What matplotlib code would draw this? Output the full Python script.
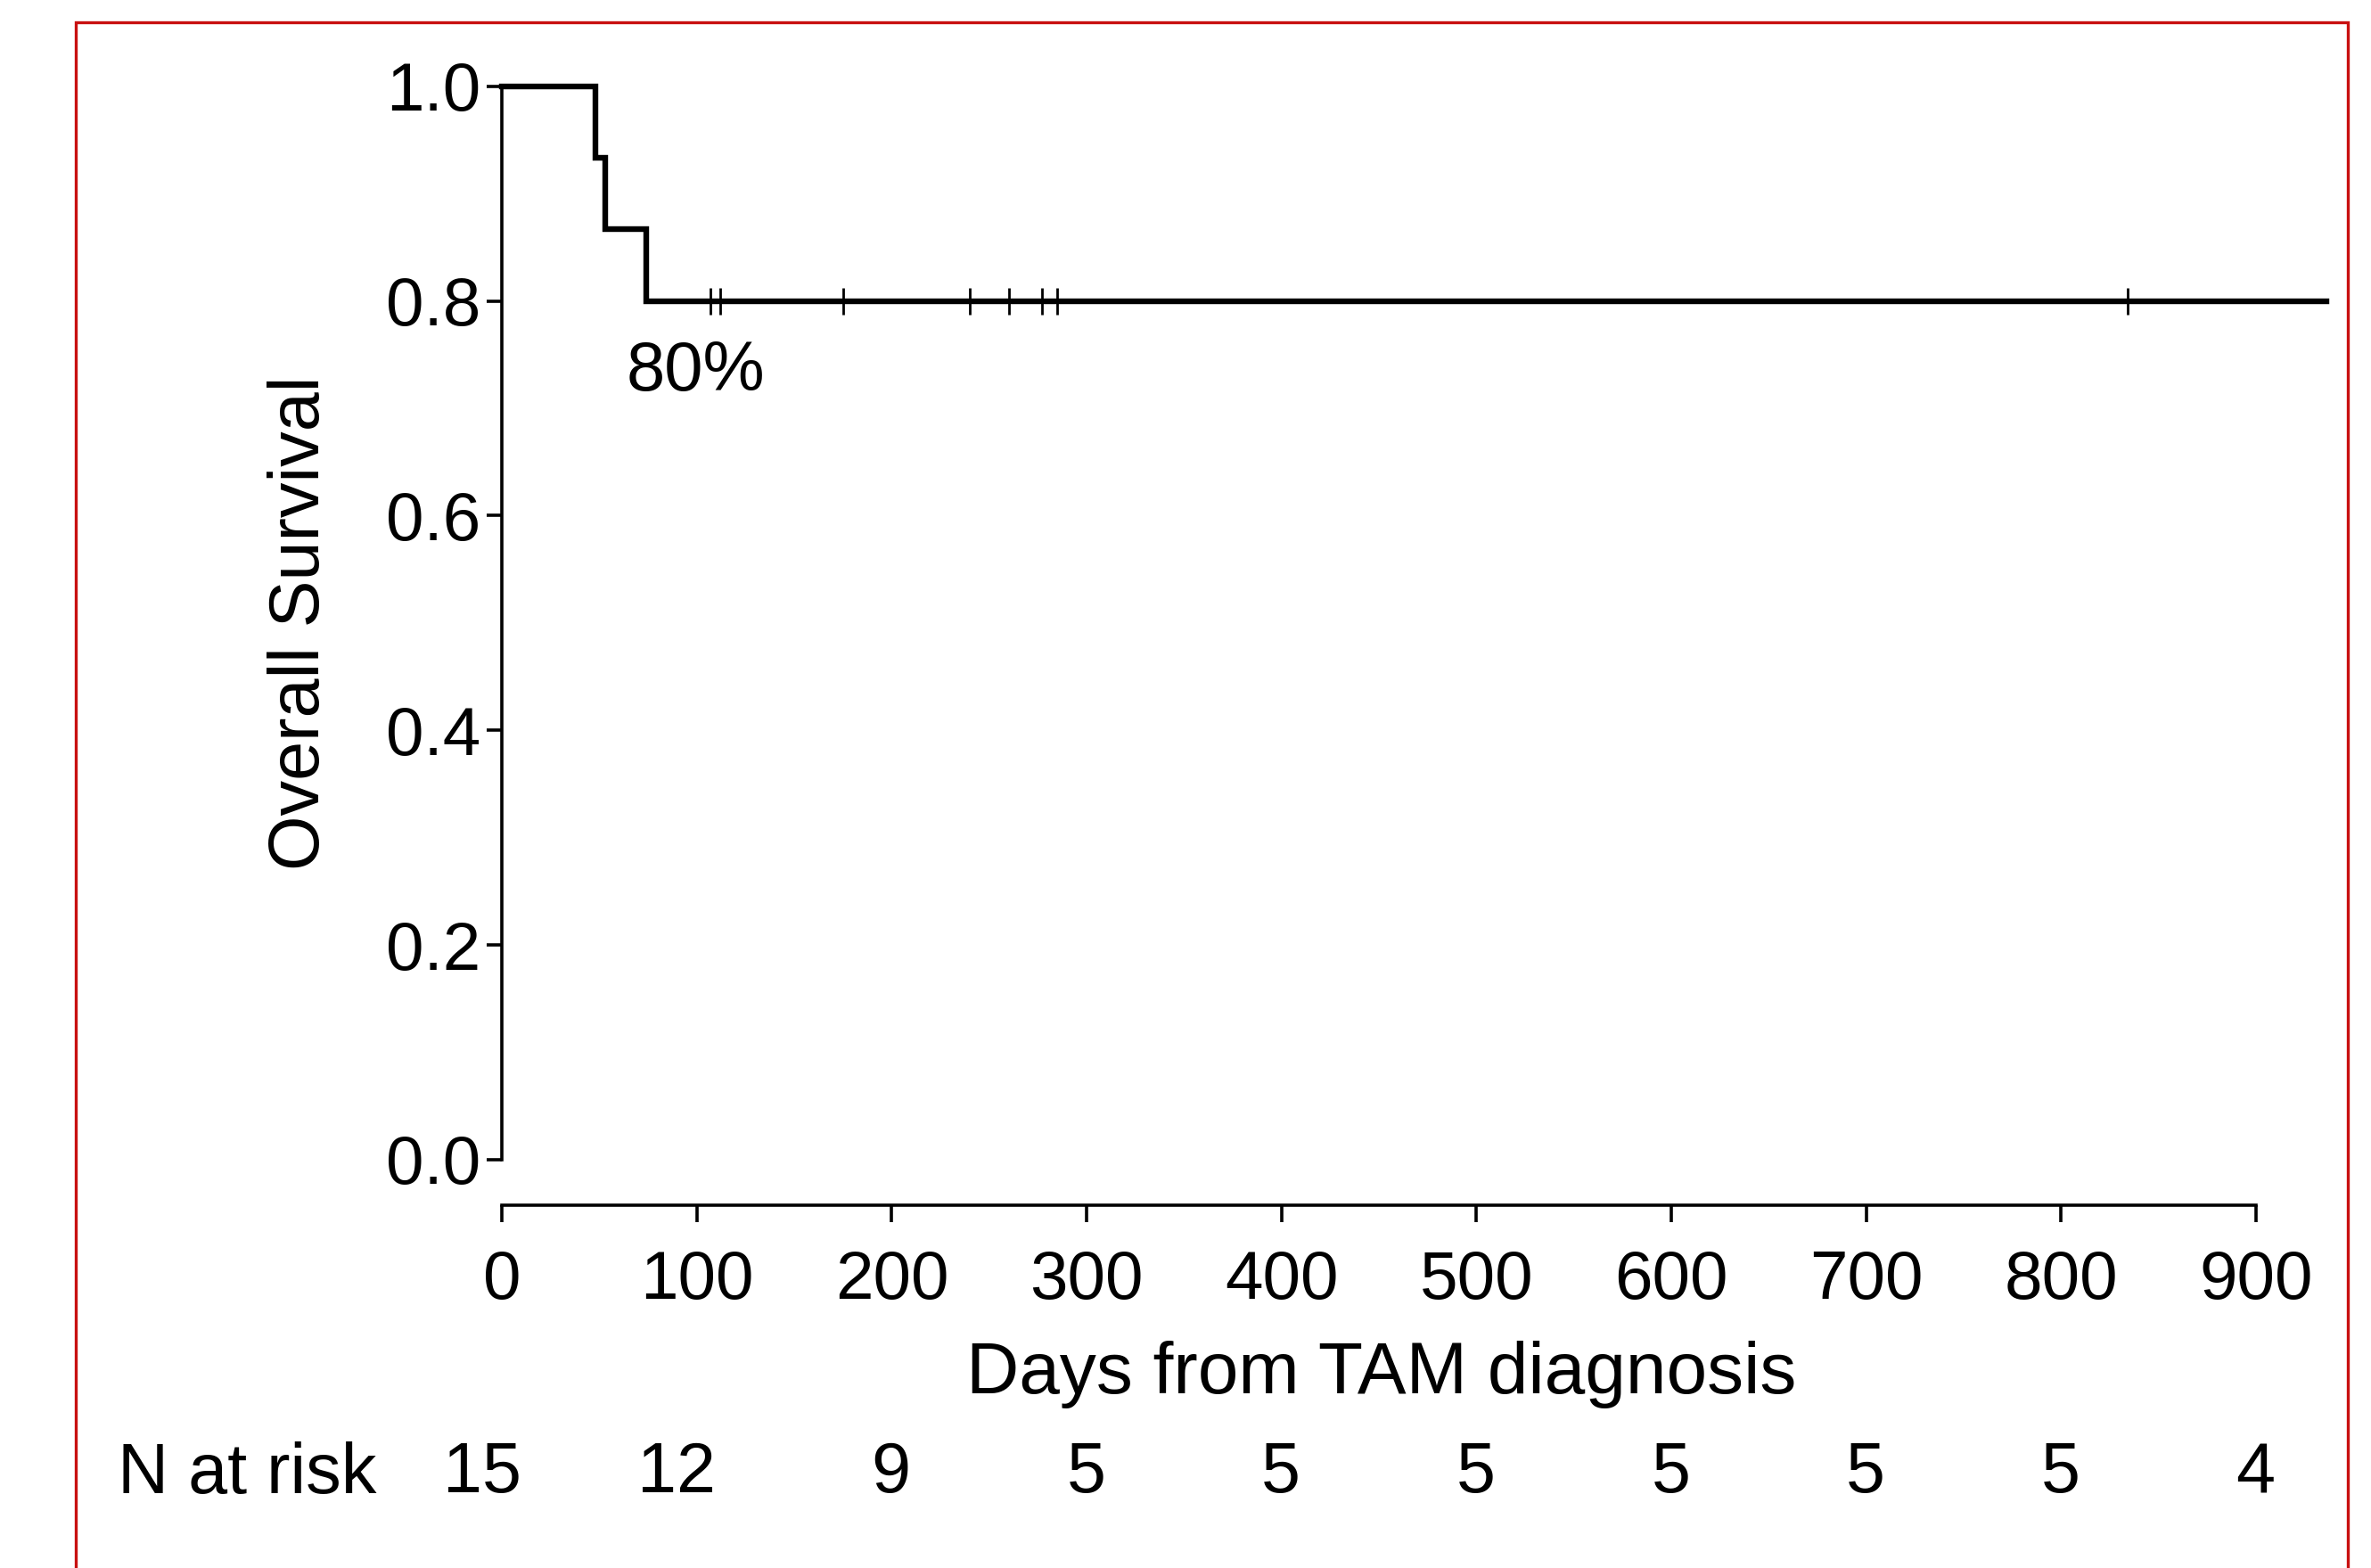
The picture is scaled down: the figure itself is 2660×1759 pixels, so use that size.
import matplotlib
matplotlib.use("Agg")
import matplotlib.pyplot as plt
import matplotlib.transforms as mtransforms
from matplotlib.patches import Rectangle

plt.rcParams['font.family'] = ['Liberation Sans', 'DejaVu Sans']

# Kaplan-Meier step curve (days, survival)
step_days = [0, 48, 53, 74, 936]
step_surv = [1.0, 0.933, 0.867, 0.8, 0.8]

# censored observations
censor_days = [107, 112, 175, 240, 260, 277, 285, 834]
censor_surv = [0.8, 0.8, 0.8, 0.8, 0.8, 0.8, 0.8, 0.8]

x_ticks = [0, 100, 200, 300, 400, 500, 600, 700, 800, 900]
y_ticks = [0.0, 0.2, 0.4, 0.6, 0.8, 1.0]
n_at_risk = [15, 12, 9, 5, 5, 5, 5, 5, 5, 4]

fig = plt.figure(figsize=(13.3, 8.795), dpi=200)
ax = fig.add_axes([0.2117, 0.2604, 0.7727, 0.6846])

ax.step(step_days, step_surv, where='post', color='black', lw=2.3,
        solid_joinstyle='miter', clip_on=False, zorder=3)
ax.plot(censor_days, censor_surv, linestyle='none', marker='|', ms=10.5,
        mew=1.0, color='black', clip_on=False, zorder=4)

ax.text(64, 0.734, "80%", fontsize=28, ha='left', va='center')

ax.set_xlim(0, 940)
ax.set_ylim(0, 1)
ax.set_xticks(x_ticks)
ax.set_yticks(y_ticks)
ax.set_yticklabels([f"{v:.1f}" for v in y_ticks])

for s in ['top', 'right']:
    ax.spines[s].set_visible(False)
ax.spines['left'].set_bounds(0, 1)
ax.spines['bottom'].set_bounds(0, 900)
ax.spines['bottom'].set_position(('outward', 18.4))
ax.spines['left'].set_linewidth(1.3)
ax.spines['bottom'].set_linewidth(1.3)
ax.tick_params(axis='y', length=6, width=1.3, pad=2.5, labelsize=27.5)
ax.tick_params(axis='x', length=7, width=1.3, pad=11, labelsize=27.5)

ax.text(-0.11, 0.5, "Overall Survival", transform=ax.transAxes, rotation=90,
        ha='center', va='center', fontsize=28.5)
ax.text(451, -0.2, "Days from TAM diagnosis", transform=ax.get_xaxis_transform(),
        ha='center', va='center', fontsize=29.5)

# number at risk row
risk_y = -0.293
off = mtransforms.ScaledTranslation(7.7 / 72, 0, fig.dpi_scale_trans)
for t, n in zip(x_ticks, n_at_risk):
    ax.text(t, risk_y, str(n), transform=ax.get_xaxis_transform() + off,
            ha='right', va='center', fontsize=28.5)
fig.text(132 / 2660, 1 - 1655 / 1759, "N at risk", ha='left', va='center', fontsize=28.5)

# red frame around the figure
fig.patches.append(Rectangle((0.032, -0.05), 0.9582, 1.0358, transform=fig.transFigure,
                             fill=False, edgecolor='#c81010', lw=1.2))

fig.savefig("out.png", dpi=200)
